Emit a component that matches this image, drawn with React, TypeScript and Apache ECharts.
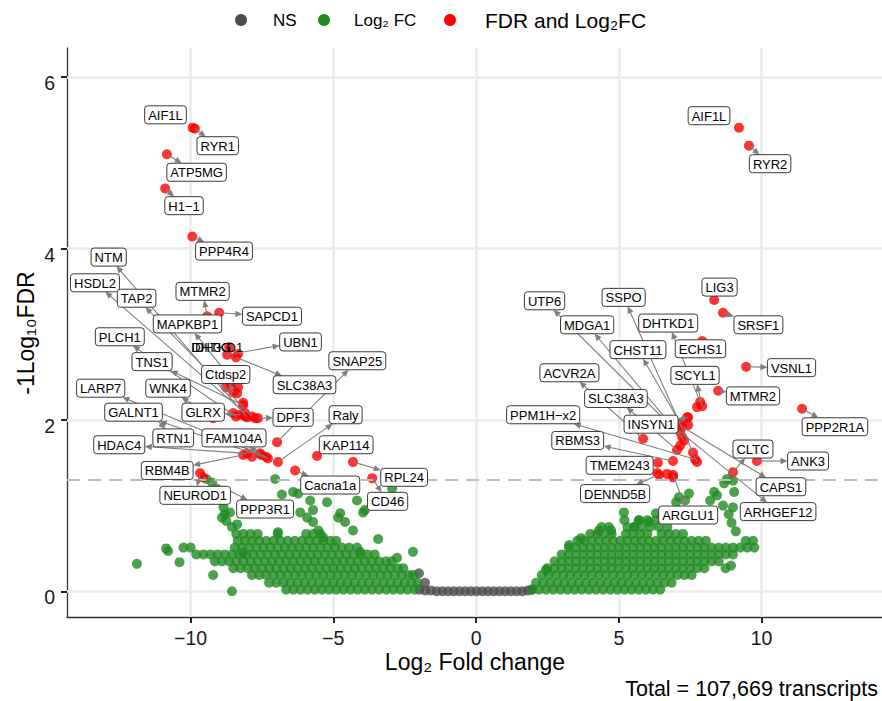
import React, { useEffect, useRef } from "react";
import * as echarts from "echarts";

const FONT = "'Liberation Sans', Arial, Helvetica, sans-serif";

const xTicks = [-10, -5, 0, 5, 10];
const yTicks = [0, 2, 4, 6];
const xRange = [-14.33, 14.22];
const yRange = [-0.3, 6.34];
const fdrLine = 1.30103;

// NS (grey) points
const nsPoints: number[][] = [
  [-2.0, 0.21], [-1.79, 0.1],
  [-1.98, 0.02], [-1.78, 0.01], [-1.58, 0.01], [-1.38, 0.0], [-1.18, 0.0], [-0.98, 0.0],
  [-0.78, 0.0], [-0.58, 0.0], [-0.38, 0.0], [-0.18, 0.0], [0.02, 0.0], [0.22, 0.0],
  [0.42, 0.0], [0.62, 0.0], [0.82, 0.0], [1.02, 0.0], [1.22, 0.0], [1.42, 0.0],
  [1.62, 0.0], [1.82, 0.01], [1.97, 0.02],
];

// Log2 FC (green) points, left cloud, read row by row
const fcLeftRows: [number, number[]][] = [
  [0.02, [-6.65, -6.4, -6.15, -5.9, -5.65, -5.4, -5.15, -4.9, -4.65, -4.4, -4.15, -3.9, -3.65, -3.4, -3.15, -2.9, -2.65, -2.4, -2.15]],
  [0.1, [-7.25, -7.0, -6.75, -6.5, -6.25, -6.0, -5.75, -5.5, -5.25, -5.0, -4.75, -4.5, -4.25, -4.0, -3.75, -3.5, -3.25, -3.0, -2.75, -2.5, -2.25, -2.05]],
  [0.19, [-7.85, -7.6, -7.35, -7.1, -6.85, -6.6, -6.35, -6.1, -5.85, -5.6, -5.35, -5.1, -4.85, -4.6, -4.35, -4.1, -3.85, -3.6, -3.35, -3.1, -2.85, -2.6, -2.35, -2.2]],
  [0.27, [-8.5, -8.25, -8.0, -7.75, -7.5, -7.25, -7.0, -6.75, -6.5, -6.25, -6.0, -5.75, -5.5, -5.25, -5.0, -4.75, -4.5, -4.25, -4.0, -3.75, -3.5, -3.25, -3.0, -2.75, -2.55]],
  [0.35, [-9.15, -8.9, -8.65, -8.4, -8.15, -7.9, -7.65, -7.4, -7.15, -6.9, -6.65, -6.4, -6.15, -5.9, -5.65, -5.4, -5.15, -4.9, -4.65, -4.4, -4.15, -3.9, -3.65, -3.4, -3.15, -2.95]],
  [0.43, [-9.8, -9.55, -9.3, -9.05, -8.8, -8.55, -8.3, -8.05, -7.8, -7.55, -7.3, -7.05, -6.8, -6.55, -6.3, -6.05, -5.8, -5.55, -5.3, -5.05, -4.8, -4.55, -4.3, -4.05, -3.8, -3.55]],
  [0.51, [-10.25, -10.0, -8.45, -8.2, -7.95, -7.7, -7.45, -7.2, -6.95, -6.7, -6.45, -6.2, -5.95, -5.7, -5.45, -5.2, -4.95, -4.7, -4.45]],
  [0.59, [-8.35, -8.1, -7.85, -7.6, -7.35, -7.1, -6.85, -6.6, -6.35, -6.1, -5.85, -5.6, -5.35, -5.1, -4.9]],
  [0.67, [-8.4, -8.15, -7.9, -7.65, -6.95, -5.95, -5.7, -5.45]],
];
const fcLeftScatter: number[][] = [
  [-11.88, 0.32], [-10.86, 0.5], [-10.79, 0.47], [-10.39, 0.34], [-9.21, 0.19], [-8.55, 0.0],
  [-8.17, 0.45], [-6.94, 0.69], [-7.04, 1.31], [-6.8, 1.13], [-6.41, 1.16], [-6.23, 1.14],
  [-5.81, 1.06], [-5.22, 1.04], [-5.71, 0.95], [-4.76, 0.91], [-4.17, 1.06], [-3.89, 0.95],
  [-2.94, 1.2], [-4.83, 0.86], [-4.59, 0.81], [-4.31, 0.71], [-3.96, 0.92], [-4.17, 0.51],
  [-4.06, 0.46], [-3.43, 0.61], [-2.21, 0.46], [-2.77, 0.39], [-6.16, 0.92], [-5.92, 0.86],
  [-5.71, 0.81], [-5.53, 0.71], [-5.36, 0.63], [-9.45, 1.31], [-9.25, 1.27], [-9.1, 1.2],
  [-9.0, 1.13], [-8.9, 1.06], [-8.85, 0.98], [-8.8, 0.9], [-8.75, 0.82], [-8.62, 0.92],
  [-8.55, 0.75], [-8.37, 0.78], [-8.9, 0.86],
];

// Log2 FC (green) points, right cloud
const fcRightRows: [number, number[]][] = [
  [0.02, [1.95, 2.2, 2.45, 2.7, 2.95, 3.2, 3.45, 3.7, 3.95, 4.2, 4.45, 4.7, 4.95, 5.2, 5.45, 5.7, 5.95, 6.2, 6.45]],
  [0.1, [2.1, 2.35, 2.6, 2.85, 3.1, 3.35, 3.6, 3.85, 4.1, 4.35, 4.6, 4.85, 5.1, 5.35, 5.6, 5.85, 6.1, 6.35, 6.6, 6.85]],
  [0.19, [2.3, 2.55, 2.8, 3.05, 3.3, 3.55, 3.8, 4.05, 4.3, 4.55, 4.8, 5.05, 5.3, 5.55, 5.8, 6.05, 6.3, 6.55, 6.8, 7.05, 7.3, 7.55]],
  [0.27, [2.5, 2.75, 3.0, 3.25, 3.5, 3.75, 4.0, 4.25, 4.5, 4.75, 5.0, 5.25, 5.5, 5.75, 6.0, 6.25, 6.5, 6.75, 7.0, 7.25, 7.5, 7.75, 8.0]],
  [0.35, [2.75, 3.0, 3.25, 3.5, 3.75, 4.0, 4.25, 4.5, 4.75, 5.0, 5.25, 5.5, 5.75, 6.0, 6.25, 6.5, 6.75, 7.0, 7.25, 7.5, 7.75, 8.0, 8.25, 8.5]],
  [0.43, [3.0, 3.25, 3.5, 3.75, 4.0, 4.25, 4.5, 4.75, 5.0, 5.25, 5.5, 5.75, 6.0, 6.25, 6.5, 6.75, 7.0, 7.25, 7.5, 7.75, 8.0, 8.25, 8.5, 8.75, 9.0]],
  [0.51, [3.25, 3.5, 3.75, 4.0, 4.25, 4.5, 4.75, 5.0, 5.25, 5.5, 5.75, 6.0, 6.25, 6.5, 6.75, 7.0, 7.25, 7.5, 7.75, 8.0, 8.25, 8.5, 8.75, 9.0, 9.25, 9.5, 9.75]],
  [0.59, [3.55, 3.8, 4.05, 4.3, 4.55, 4.8, 5.05, 5.3, 5.55, 5.8, 6.05, 6.3, 6.55, 6.8, 7.05, 7.3, 7.55, 7.8, 8.05, 9.45, 9.7]],
  [0.67, [4.0, 4.25, 4.5, 4.75, 5.25, 5.5, 5.75, 6.0, 6.5, 6.75, 7.0, 7.25]],
  [0.75, [4.4, 4.65, 5.3, 5.55, 5.8, 6.1, 6.4, 6.7]],
  [0.83, [5.2, 5.7, 6.0, 6.3]],
];
const fcRightScatter: number[][] = [
  [8.69, 1.26], [8.79, 1.31], [9.0, 1.29], [9.04, 1.16], [8.34, 1.16], [8.44, 1.12],
  [8.2, 1.06], [7.46, 1.14], [7.11, 1.1], [7.01, 1.04], [7.32, 1.06], [9.0, 0.98],
  [8.65, 1.0], [5.18, 0.92], [6.3, 0.91], [5.71, 0.83], [6.06, 0.81], [5.53, 0.75],
  [4.31, 0.71], [4.73, 0.71], [3.68, 0.62], [3.26, 0.54], [2.45, 0.25], [8.85, 0.9],
  [8.95, 0.8], [9.1, 0.7], [8.74, 0.27], [8.93, 0.3],
];

// FDR and Log2FC (red): labelled genes [name, log2FC, -log10FDR, label x, label y]
const labelled: [string, number, number, number, number][] = [
  ["AIF1L", -9.93, 5.41, -10.88, 5.56],
  ["RYR1", -9.85, 5.4, -9.05, 5.2],
  ["ATP5MG", -10.83, 5.1, -9.79, 4.89],
  ["H1\u22121", -10.89, 4.7, -10.23, 4.5],
  ["PPP4R4", -9.94, 4.14, -8.83, 3.97],
  ["NTM", -8.02, 2.03, -12.87, 3.9],
  ["HSDL2", -8.09, 2.08, -13.35, 3.6],
  ["TAP2", -7.85, 2.04, -11.89, 3.42],
  ["MTMR2", -9.42, 3.21, -9.58, 3.5],
  ["SAPCD1", -9.0, 3.25, -7.15, 3.21],
  ["MAPKBP1", -8.34, 2.38, -10.11, 3.12],
  ["PLCH1", -8.41, 2.04, -12.48, 2.97],
  ["UBN1", -8.72, 2.76, -6.15, 2.91],
  ["SLC38A3", -8.41, 2.73, -6.01, 2.41],
  ["TNS1", -8.16, 2.17, -11.35, 2.68],
  ["Ctdsp2", -8.51, 2.32, -8.77, 2.53],
  ["LARP7", -7.36, 1.57, -13.15, 2.37],
  ["WNK4", -9.21, 2.02, -10.79, 2.37],
  ["GALNT1", -7.29, 1.55, -12.0, 2.09],
  ["GLRX", -8.27, 2.06, -9.56, 2.09],
  ["DPF3", -7.64, 2.02, -6.41, 2.03],
  ["RTN1", -11.3, 2.05, -10.61, 1.79],
  ["FAM104A", -7.57, 1.61, -8.48, 1.79],
  ["HDAC4", -8.02, 1.61, -12.5, 1.71],
  ["RBM4B", -8.16, 1.59, -10.82, 1.41],
  ["NEUROD1", -9.67, 1.38, -9.84, 1.12],
  ["PPP3R1", -9.56, 1.33, -7.39, 0.96],
  ["Cacna1a", -6.34, 1.41, -5.11, 1.24],
  ["SNAP25", -6.97, 1.74, -4.16, 2.69],
  ["Raly", -6.94, 1.51, -4.57, 2.06],
  ["KAP114", -5.57, 1.58, -4.55, 1.71],
  ["RPL24", -4.31, 1.51, -2.52, 1.33],
  ["CD46", -3.64, 1.32, -3.1, 1.05],
  ["AIF1L", 9.21, 5.41, 8.16, 5.55],
  ["RYR2", 9.56, 5.2, 10.3, 4.99],
  ["LIG3", 8.34, 3.4, 8.53, 3.55],
  ["SRSF1", 8.65, 3.25, 9.89, 3.11],
  ["VSNL1", 9.46, 2.62, 11.05, 2.61],
  ["MTMR2", 8.48, 2.34, 9.7, 2.28],
  ["PPP2R1A", 11.42, 2.13, 12.57, 1.92],
  ["SCYL1", 7.92, 2.16, 7.67, 2.52],
  ["DHTKD1", 7.85, 2.21, 6.73, 3.13],
  ["ECHS1", 7.92, 2.92, 7.86, 2.83],
  ["CLTC", 9.0, 1.39, 9.7, 1.66],
  ["ANK3", 9.84, 1.52, 11.63, 1.52],
  ["CAPS1", 7.22, 1.92, 10.68, 1.22],
  ["ARHGEF12", 7.15, 1.86, 10.58, 0.93],
  ["UTP6", 7.22, 1.8, 2.4, 3.39],
  ["MDGA1", 7.29, 1.76, 3.89, 3.11],
  ["SSPO", 7.74, 1.51, 5.17, 3.43],
  ["PPM1H\u2212x2", 7.67, 1.54, 2.35, 2.06],
  ["RBMS3", 6.9, 1.52, 3.56, 1.76],
  ["ACVR2A", 5.85, 1.78, 3.27, 2.55],
  ["INSYN1", 7.43, 2.03, 6.13, 1.95],
  ["CHST11", 7.15, 1.96, 5.67, 2.82],
  ["SLC38A3", 7.04, 1.65, 4.9, 2.25],
  ["TMEM243", 6.34, 1.38, 5.03, 1.47],
  ["DENND5B", 6.41, 1.36, 4.87, 1.14],
  ["ARGLU1", 6.9, 1.36, 7.43, 0.89],
];
const noArrow = ["AIF1L", "KAP114", "LIG3", "ECHS1", "TMEM243"];

// overlapping unboxed labels in the left cluster [name, x, y]
const looseLabels: [string, number, number][] = [
  ["IDH3G", -9.28, 2.84],
  ["DHTKD1", -9.07, 2.84],
];

// other significant (red) points without labels
const sigOther: number[][] = [
  [-8.65, 2.85], [-8.34, 2.77], [-8.76, 2.38], [-8.62, 2.43], [-8.37, 2.31], [-8.16, 2.2],
  [-8.09, 2.04], [-7.74, 2.02], [-8.51, 2.08], [-7.85, 1.57], [-7.53, 1.59], [-8.55, 2.4],
  [7.74, 2.15], [6.69, 1.37], [6.37, 1.5], [7.43, 1.94], [6.9, 1.33], [7.39, 2.03],
  [7.6, 1.62], [7.15, 1.7],
];

const legendItems: [string, string, number, number, number][] = [
  ["NS", "#4D4D4D", 241, 273, 17],
  ["Log\u2082 FC", "#228B22", 324, 354, 17],
  ["FDR and Log\u2082FC", "#FF0000", 450, 485, 21],
];

function rowsToPoints(rows: [number, number[]][]): number[][] {
  const out: number[][] = [];
  rows.forEach(([y, xs]) => xs.forEach((x) => out.push([x, y])));
  return out;
}

export default function App() {
  const ref = useRef<HTMLDivElement>(null);
  useEffect(() => {
    if (!ref.current) return;
    const chart = echarts.init(ref.current, null, { renderer: "svg" });
    const green = [
      ...rowsToPoints(fcLeftRows),
      ...fcLeftScatter,
      ...rowsToPoints(fcRightRows),
      ...fcRightScatter,
    ];
    const red = [...sigOther, ...labelled.map((l) => [l[1], l[2]])];
    const minus = (v: number) => (v < 0 ? "\u2212" + Math.abs(v) : String(v));

    chart.setOption({
      animation: false,
      backgroundColor: "#ffffff",
      grid: { left: 67, right: 0, top: 48, bottom: 84, containLabel: false },
      xAxis: {
        type: "value",
        min: xRange[0],
        max: xRange[1],
        axisLine: { show: true, onZero: false, lineStyle: { color: "#333333", width: 1.3 } },
        axisTick: { show: true, length: 6, customValues: xTicks, lineStyle: { color: "#222222", width: 2 } },
        axisLabel: {
          customValues: xTicks,
          formatter: minus,
          fontSize: 19.5,
          color: "#1a1a1a",
          fontFamily: FONT,
          margin: 11,
        },
        splitLine: { show: false },
      },
      yAxis: {
        type: "value",
        min: yRange[0],
        max: yRange[1],
        axisLine: { show: true, onZero: false, lineStyle: { color: "#333333", width: 1.3 } },
        axisTick: { show: true, length: 6, customValues: yTicks, lineStyle: { color: "#222222", width: 2 } },
        axisLabel: {
          customValues: yTicks,
          formatter: (v: number) => `{t|${v}}`,
          margin: 12,
          rich: {
            t: {
              fontSize: 19.5,
              color: "#1a1a1a",
              fontFamily: FONT,
              padding: [12, 0, 0, 0],
            },
          },
        },
        splitLine: { show: false },
      },
      series: [
        {
          name: "NS",
          type: "scatter",
          data: nsPoints,
          symbol: "circle",
          symbolSize: 10,
          itemStyle: { color: "#4D4D4D" },
          silent: true,
          markLine: {
            z: 1,
            silent: true,
            symbol: ["none", "none"],
            label: { show: false },
            emphasis: { disabled: true },
            lineStyle: { color: "#EBEBEB", width: 2.5, type: "solid" },
            data: [...xTicks.map((v) => ({ xAxis: v })), ...yTicks.map((v) => ({ yAxis: v }))],
          },
        },
        {
          name: "Log2 FC",
          type: "scatter",
          data: green,
          symbol: "circle",
          symbolSize: 10,
          itemStyle: { color: "#228B22" },
          silent: true,
        },
        {
          name: "FDR and Log2FC",
          type: "scatter",
          data: red,
          symbol: "circle",
          symbolSize: 10,
          itemStyle: { color: "#FF0000" },
          silent: true,
          markLine: {
            z: 6,
            silent: true,
            symbol: ["none", "none"],
            label: { show: false },
            emphasis: { disabled: true },
            lineStyle: { color: "#BDBDBD", width: 2, type: [13, 8] },
            data: [{ yAxis: fdrLine }],
          },
        },
      ],
    });

    const ctx = document.createElement("canvas").getContext("2d")!;
    ctx.font = `13px ${FONT}`;
    const toPx = (x: number, y: number) =>
      chart.convertToPixel({ gridIndex: 0 }, [x, y]) as number[];

    const elements: any[] = [];
    const ARROW = "#7F7F7F";
    labelled.forEach(([name, x, y, lx, ly]) => {
      const [cx, cy] = toPx(lx, ly);
      const [px, py] = toPx(x, y);
      const w = ctx.measureText(name).width + 7;
      const h = 18;
      if (!noArrow.includes(name)) {
        const dx = px - cx;
        const dy = py - cy;
        const sx = dx === 0 ? Infinity : w / 2 / Math.abs(dx);
        const sy = dy === 0 ? Infinity : h / 2 / Math.abs(dy);
        const s = Math.min(sx, sy);
        if (s < 1) {
          const ex = cx + dx * s;
          const ey = cy + dy * s;
          const len = Math.hypot(ex - px, ey - py);
          if (len > 3) {
            const ux = (ex - px) / len;
            const uy = (ey - py) / len;
            const hl = Math.min(7, len * 0.7);
            const hw = 3.2;
            elements.push({
              type: "line",
              z: 50,
              silent: true,
              shape: { x1: px, y1: py, x2: ex - ux * hl * 0.6, y2: ey - uy * hl * 0.6 },
              style: { stroke: ARROW, lineWidth: 1.1 },
            });
            elements.push({
              type: "polygon",
              z: 50,
              silent: true,
              shape: {
                points: [
                  [ex, ey],
                  [ex - ux * hl - uy * hw, ey - uy * hl + ux * hw],
                  [ex - ux * hl + uy * hw, ey - uy * hl - ux * hw],
                ],
              },
              style: { fill: ARROW },
            });
          }
        }
      }
      elements.push({
        type: "rect",
        z: 100,
        silent: true,
        shape: { x: cx - w / 2, y: cy - h / 2, width: w, height: h, r: 3 },
        style: { fill: "#ffffff", stroke: "#3a3a3a", lineWidth: 1 },
      });
      elements.push({
        type: "text",
        z: 101,
        silent: true,
        x: cx,
        y: cy + 0.5,
        style: {
          text: name,
          fontSize: 13,
          fontFamily: FONT,
          fill: "#000000",
          align: "center",
          verticalAlign: "middle",
        },
      });
    });
    looseLabels.forEach(([name, x, y]) => {
      const [cx, cy] = toPx(x, y);
      elements.push({
        type: "text",
        z: 101,
        silent: true,
        x: cx,
        y: cy,
        style: {
          text: name,
          fontSize: 13,
          fontFamily: FONT,
          fill: "#000000",
          align: "center",
          verticalAlign: "middle",
        },
      });
    });

    legendItems.forEach(([text, color, dotX, textX, size]) => {
      elements.push({ type: "circle", z: 100, silent: true, shape: { cx: dotX, cy: 20, r: 6 }, style: { fill: color } });
      elements.push({
        type: "text",
        z: 100,
        silent: true,
        x: textX,
        y: 20,
        style: { text, fontSize: size, fontFamily: FONT, fill: "#000000", align: "left", verticalAlign: "middle" },
      });
    });

    elements.push({
      type: "text",
      z: 100,
      silent: true,
      x: 475,
      y: 662,
      style: {
        text: "Log\u2082 Fold change",
        fontSize: 23,
        fontFamily: FONT,
        fill: "#000000",
        align: "center",
        verticalAlign: "middle",
      },
    });
    elements.push({
      type: "text",
      z: 100,
      silent: true,
      x: 26,
      y: 333,
      rotation: Math.PI / 2,
      style: {
        text: "-1Log\u2081\u2080FDR",
        fontSize: 23,
        fontFamily: FONT,
        fill: "#000000",
        align: "center",
        verticalAlign: "middle",
      },
    });
    elements.push({
      type: "text",
      z: 100,
      silent: true,
      x: 878,
      y: 689,
      style: {
        text: "Total = 107,669 transcripts",
        fontSize: 21.5,
        fontFamily: FONT,
        fill: "#000000",
        align: "right",
        verticalAlign: "middle",
      },
    });

    chart.setOption({ graphic: { elements } });
    return () => chart.dispose();
  }, []);

  return (
    <div
      ref={ref}
      style={{ position: "absolute", left: 0, top: 0, width: 882, height: 701, background: "#ffffff" }}
    />
  );
}
